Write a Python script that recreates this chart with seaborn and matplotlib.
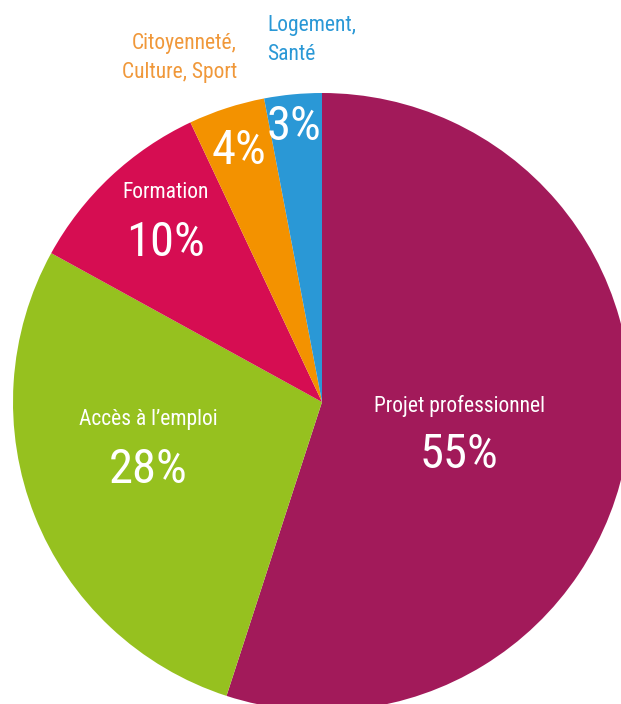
import matplotlib
matplotlib.use("Agg")
import matplotlib.pyplot as plt
from matplotlib import font_manager
import seaborn as sns

# ---- data ----
categories = ["Projet professionnel", "Accès à l\u2019emploi", "Formation",
              "Citoyenneté,\nCulture, Sport", "Logement,\nSanté"]
values = [55, 28, 10, 4, 3]
pct_labels = ["55%", "28%", "10%", "4%", "3%"]
colors = ["#A21A5A", "#96C11F", "#D60D52", "#F39200", "#2A98D6"]

sns.set_theme(style="white")

names = {f.name for f in font_manager.fontManager.ttflist}
cond = None
for cand in ["Liberation Sans Narrow", "Roboto Condensed", "DejaVu Sans Condensed",
             "Open Sans Condensed", "Roboto", "Liberation Sans"]:
    if cand in names:
        cond = cand
        break
plt.rcParams['font.family'] = [cond, 'DejaVu Sans']

W, H = 621, 704
fig = plt.figure(figsize=(W / 100, H / 100), dpi=100)
ax = fig.add_axes([0, 0, 1, 1])

cx, cy, R = 322, 402, 309
ax.pie(values, colors=colors, startangle=90, counterclock=False, radius=1,
       wedgeprops=dict(linewidth=0))
ax.set_aspect('auto')
ax.set_xlim(-cx / R, (W - cx) / R)
ax.set_ylim(-(H - cy) / R, cy / R)
ax.axis('off')

def px(x, y):
    return ((x - cx) / R, (cy - y) / R)

white = "white"
name_fs = 15.5
pct_fs = 35

# inside labels
inside = [
    (0, (459, 406), (459, 455)),
    (1, (148, 420), (148, 470)),
    (2, (166, 193), (166, 243)),
]
for i, npos, ppos in inside:
    ax.text(*px(*npos), categories[i], color=white, fontsize=name_fs,
            ha='center', va='center')
    ax.text(*px(*ppos), pct_labels[i], color=white, fontsize=pct_fs,
            ha='center', va='center')

ax.text(*px(239, 151), pct_labels[3], color=white, fontsize=pct_fs,
        ha='center', va='center')
ax.text(*px(294, 127), pct_labels[4], color=white, fontsize=pct_fs,
        ha='center', va='center')

# outside labels
ax.text(*px(237, 58), categories[3], color="#F0983A", fontsize=name_fs,
        ha='right', va='center', linespacing=1.45)
ax.text(*px(267, 40), categories[4], color="#2A98D6", fontsize=name_fs,
        ha='left', va='center', linespacing=1.45)

fig.savefig("out.png", dpi=100, facecolor="white")
